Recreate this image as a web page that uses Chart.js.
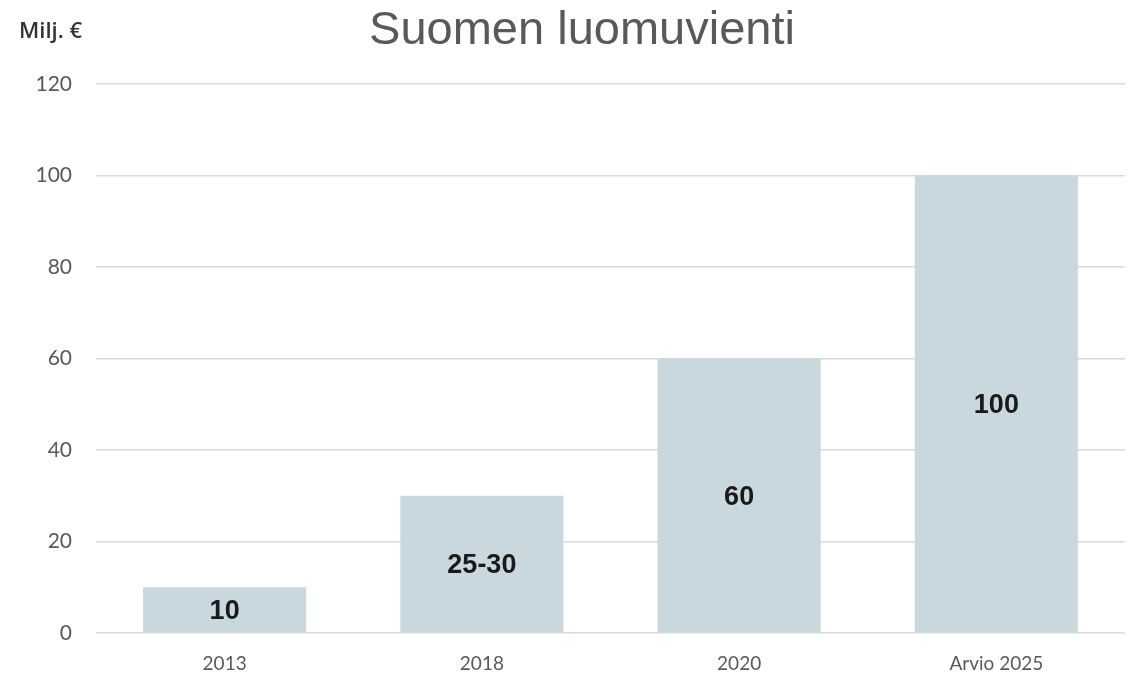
<!DOCTYPE html>
<html>
<head>
<meta charset="utf-8">
<script src="https://cdn.jsdelivr.net/npm/chart.js@4"></script>
<style>
    html, body { margin: 0; padding: 0; background: #fff; }
    #wrap { width: 1130px; height: 674px; }
</style>
</head>
<body>
<div id="wrap"><canvas id="barChart"></canvas></div>
<script>
const categories = ['2013', '2018', '2020', 'Arvio 2025'];
const values = [10, 30, 60, 100];
const valueLabels = ['10', '25-30', '60', '100'];
const yTicks = [0, 20, 40, 60, 80, 100, 120];

const chartTitle = 'Suomen luomuvienti';
const unitLabel = 'Milj. €';

// title, unit text and the numbers inside the bars
const textPlugin = {
    id: 'textPlugin',
    afterDatasetsDraw(chart) {
        const ctx = chart.ctx;
        ctx.save();

        ctx.fillStyle = '#595959';
        ctx.font = '47px "Liberation Sans", Arial, sans-serif';
        ctx.textAlign = 'center';
        ctx.textBaseline = 'middle';
        ctx.fillText(chartTitle, 582, 31);

        ctx.fillStyle = '#333333';
        ctx.font = '600 22px "Open Sans", sans-serif';
        ctx.textAlign = 'left';
        ctx.fillText(unitLabel, 19, 32);

        ctx.fillStyle = '#1a1a1a';
        ctx.font = 'bold 27px "Liberation Sans", Arial, sans-serif';
        ctx.textAlign = 'center';
        const meta = chart.getDatasetMeta(0);
        meta.data.forEach(function (bar, i) {
            const midY = (bar.y + bar.base) / 2;
            ctx.fillText(valueLabels[i], bar.x, midY + 2);
        });

        ctx.restore();
    }
};

const ctx = document.getElementById('barChart').getContext('2d');

new Chart(ctx, {
    type: 'bar',
    data: {
        labels: categories,
        datasets: [{
            data: values,
            backgroundColor: '#c8d8de',
            borderWidth: 0,
            barPercentage: 0.634,
            categoryPercentage: 1.0
        }]
    },
    options: {
        responsive: true,
        maintainAspectRatio: false,
        animation: false,
        layout: {
            padding: { top: 84, right: 5, left: 0, bottom: 0 }
        },
        plugins: {
            legend: { display: false },
            title: { display: false },
            tooltip: { enabled: false }
        },
        scales: {
            x: {
                grid: { display: false, drawTicks: false },
                border: { display: false },
                ticks: {
                    color: '#595959',
                    font: { family: 'Lato, "Open Sans", sans-serif', size: 19 },
                    padding: 19
                },
                afterFit(scale) { scale.height = 41; }
            },
            y: {
                min: 0,
                max: 120,
                afterBuildTicks(scale) {
                    scale.ticks = yTicks.map(v => ({ value: v }));
                },
                grid: {
                    color: '#d9d9d9',
                    lineWidth: 1.5,
                    drawTicks: false
                },
                border: { display: false },
                ticks: {
                    color: '#595959',
                    font: { family: 'Lato, "Open Sans", sans-serif', size: 21 },
                    padding: 24
                },
                afterFit(scale) { scale.width = 96; }
            }
        }
    },
    plugins: [textPlugin]
});
</script>
</body>
</html>
